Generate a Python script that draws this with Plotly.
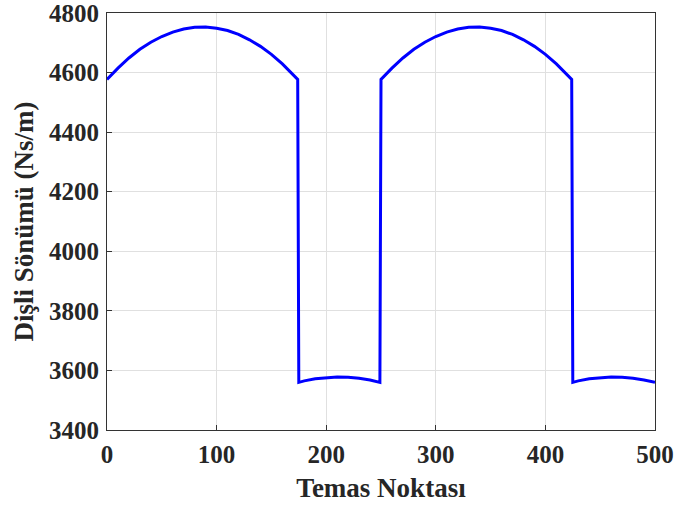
import plotly.graph_objects as go

x_vals = [0, 10, 20, 30, 40, 50, 60, 70, 80, 90, 100, 110, 120, 130, 140, 150, 160, 170, 174,
          175, 180, 190, 200, 210, 220, 230, 240, 249,
          250, 260, 270, 280, 290, 300, 310, 320, 330, 340, 350, 360, 370, 380, 390, 400, 410, 420, 424,
          425, 430, 440, 450, 460, 470, 480, 490, 500]
damping = [4577, 4615, 4649, 4678, 4702, 4721, 4736, 4746, 4752, 4753, 4749, 4741, 4728, 4710, 4688, 4661, 4629, 4593, 4577,
           3560, 3565, 3572, 3576, 3578, 3577, 3574, 3568, 3560,
           4577, 4615, 4649, 4678, 4702, 4721, 4736, 4746, 4752, 4753, 4749, 4741, 4728, 4710, 4688, 4661, 4629, 4593, 4577,
           3560, 3565, 3572, 3576, 3578, 3577, 3574, 3568, 3560]

x_ticks = [0, 100, 200, 300, 400, 500]
y_ticks = [3400, 3600, 3800, 4000, 4200, 4400, 4600, 4800]

fig = go.Figure(go.Scatter(x=x_vals, y=damping, mode="lines",
                           line=dict(color="#0000FF", width=3)))

font_family = "Liberation Serif"
axis_common = dict(
    automargin=False,
    showline=True, mirror=True, linecolor="#333333", linewidth=1,
    ticks="inside", ticklen=5, tickcolor="#333333",
    ticklabeloverflow="allow",
    showgrid=True, gridcolor="#E0E0E0", gridwidth=1, zeroline=False,
    tickfont=dict(family=font_family, size=25, color="#262626", weight="bold"),
)
fig.update_layout(
    width=676, height=507,
    margin=dict(l=107, r=21, t=13, b=77),
    paper_bgcolor="white", plot_bgcolor="white",
    showlegend=False,
    xaxis=dict(range=[0, 500], tickvals=x_ticks, ticklabelstandoff=2,
               title=dict(text="Temas Noktası", standoff=11,
                          font=dict(family=font_family, size=27, color="#262626", weight="bold")),
               **axis_common),
    yaxis=dict(range=[3400, 4800], tickvals=y_ticks, ticklabelstandoff=2,
               title=dict(text="Dişli Sönümü (Ns/m)", standoff=7,
                          font=dict(family=font_family, size=27, color="#262626", weight="bold")),
               **axis_common),
)
fig.write_html("out.html", config={"displayModeBar": False},
               post_script="document.body.style.margin='0';document.body.style.overflow='hidden';")
